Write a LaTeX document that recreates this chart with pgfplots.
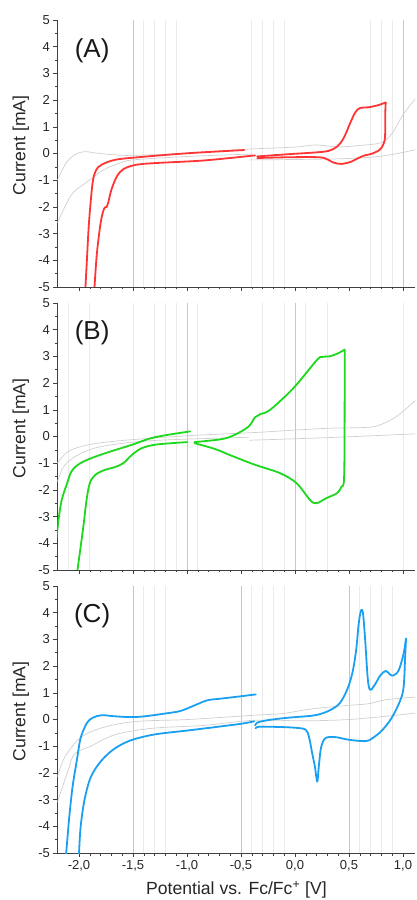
\documentclass[border=0pt]{standalone}
\usepackage{fontspec}
\setmainfont{Liberation Sans}
\usepackage{pgfplots}
\pgfplotsset{compat=1.18}

\definecolor{cvred}{HTML}{FF3535}
\definecolor{cvgreen}{HTML}{1ED81E}
\definecolor{cvblue}{HTML}{1AA0F0}

\pgfplotsset{
  cvpanel/.style={
    scale only axis, width=358pt, height=267pt,
    xmin=-2.2, xmax=1.115, ymin=-5, ymax=5,
    axis x line*=bottom, axis y line*=left,
    axis line style={-, black!75, line width=0.6pt},
    every outer x axis line/.append style={-},
    every outer y axis line/.append style={-},
    xtick={-2,-1.5,-1,-0.5,0,0.5,1}, minor x tick num=4,
    ytick={-5,-4,-3,-2,-1,0,1,2,3,4,5}, minor y tick num=1,
    tick align=outside, major tick length=4pt, minor tick length=2.5pt,
    tick style={black!75, line width=0.5pt},
    tick label style={font=\fontsize{13}{15}\selectfont, text=black!85},
    /pgf/number format/assume math mode=true,
    xticklabel style={/pgf/number format/.cd, fixed, fixed zerofill, precision=1, use comma},
    ylabel={Current [mA]},
    ylabel style={at={(axis description cs:-0.102,0.53)}, anchor=center,
      font=\fontsize{17.6}{20}\selectfont, text=black!85},
  },
  gridd/.style={gray!45, line width=0.8pt, forget plot},
  gridl/.style={gray!16, line width=0.7pt, forget plot},
  blank/.style={gray!38, line width=0.7pt, smooth, tension=0.55},
  cv/.style={line width=1.8pt, smooth, tension=0.55, line cap=round, line join=round},
}

\begin{document}
\begin{tikzpicture}
\useasboundingbox (-57.4pt,-47pt) rectangle (358.6pt,853pt);

% ---------- (A) ----------
\begin{axis}[cvpanel, at={(0,566pt)}, anchor=south west, xticklabels={}]
  \pgfplotsinvokeforeach{-1.5,1.0}{\addplot[gridd] coordinates {(#1,-5) (#1,5)};}
  \pgfplotsinvokeforeach{-1.4,-1.3,-1.2,-1.1,-0.4,-0.3,-0.2,-0.1,0.7,0.8,0.9}{\addplot[gridl] coordinates {(#1,-5) (#1,5)};}
  \addplot[blank] coordinates {(-2.2,-1.0) (-2.12,-0.36) (-2.04,-0.05) (-1.95,0.07) (-1.83,0.01) (-1.67,-0.05) (-1.5,-0.07) (-1.0,0.01) (-0.45,0.16) (0.0,0.24) (0.19,0.32) (0.4,0.25) (0.6,0.3) (0.8,0.41) (0.9,0.76) (1.0,1.45) (1.115,2.05)};
  \addplot[blank] coordinates {(-2.2,-2.6) (-2.07,-1.55) (-1.92,-1.05) (-1.77,-0.61) (-1.62,-0.36) (-1.5,-0.24) (-0.99,-0.11) (-0.4,-0.02)};
  \addplot[blank] coordinates {(-0.42,-0.24) (0.4,-0.2) (0.8,-0.1) (1.115,0.14)};
  \addplot[cv, cvred] coordinates {(-0.47,0.13) (-0.99,0.01) (-1.48,-0.15) (-1.67,-0.24) (-1.79,-0.42) (-1.84,-0.61) (-1.87,-0.99) (-1.89,-1.73) (-1.91,-2.73) (-1.925,-3.85) (-1.94,-5.0) (-1.942,-5.3)};
  \addplot[cv, cvred] coordinates {(-1.858,-5.3) (-1.856,-4.98) (-1.834,-3.73) (-1.80,-2.61) (-1.775,-2.15) (-1.76,-2.02) (-1.745,-2.0) (-1.73,-1.85) (-1.70,-1.36) (-1.65,-0.86) (-1.59,-0.59) (-1.48,-0.43) (-1.30,-0.36) (-0.84,-0.26) (-0.37,-0.07)};
  \addplot[cv, cvred] coordinates {(-0.35,-0.11) (-0.055,-0.025) (0.19,0.04) (0.313,0.1) (0.39,0.26) (0.45,0.57) (0.51,1.13) (0.557,1.53) (0.60,1.70) (0.68,1.73) (0.77,1.81) (0.84,1.91)};
  \addplot[cv, cvred] coordinates {(0.84,1.91) (0.836,1.5) (0.834,0.64) (0.82,0.36) (0.785,0.14) (0.71,-0.01) (0.647,-0.07) (0.586,-0.17) (0.525,-0.3) (0.433,-0.39) (0.356,-0.34) (0.295,-0.21) (0.218,-0.14) (-0.055,-0.14) (-0.35,-0.17)};
  \node[font=\fontsize{26}{30}\selectfont, text=black!90] at (rel axis cs:0.097,0.885) {(A)};
\end{axis}

% ---------- (B) ----------
\begin{axis}[cvpanel, at={(0,283pt)}, anchor=south west, xticklabels={}]
  \pgfplotsinvokeforeach{-1.0,0.0}{\addplot[gridd] coordinates {(#1,-5) (#1,5)};}
  \pgfplotsinvokeforeach{-2.1,-1.9,-1.5,-1.3,-1.2,-1.1,-0.9,-0.3,-0.1,0.1,0.3,1.0}{\addplot[gridl] coordinates {(#1,-5) (#1,5)};}
  \addplot[blank] coordinates {(-2.2,-1.0) (-2.1,-0.56) (-1.91,-0.31) (-1.6,-0.15) (-0.99,0.03) (-0.37,0.15) (0.0,0.24) (0.32,0.31) (0.66,0.34) (0.79,0.44) (0.94,0.75) (1.115,1.35)};
  \addplot[blank] coordinates {(-2.2,-1.69) (-2.13,-1.06) (-1.98,-0.63) (-1.76,-0.35) (-1.30,-0.15) (-0.43,-0.03)};
  \addplot[blank] coordinates {(-0.42,-0.14) (0.32,-0.04) (1.115,0.1)};
  \addplot[cv, cvgreen] coordinates {(-0.972,0.19) (-1.30,-0.03) (-1.51,-0.31) (-1.76,-0.63) (-1.91,-0.85) (-2.01,-1.06) (-2.07,-1.31) (-2.11,-1.75) (-2.16,-2.38) (-2.19,-3.13) (-2.21,-3.88)};
  \addplot[cv, cvgreen] coordinates {(-1.0,-0.21) (-1.14,-0.25) (-1.30,-0.31) (-1.42,-0.44) (-1.51,-0.69) (-1.59,-1.0) (-1.67,-1.15) (-1.76,-1.25) (-1.85,-1.44) (-1.90,-1.75) (-1.93,-2.38) (-1.96,-3.38) (-2.01,-4.88) (-2.025,-5.3)};
  \addplot[cv, cvgreen] coordinates {(-0.93,-0.21) (-0.68,-0.1) (-0.56,0.06) (-0.43,0.37) (-0.37,0.72) (-0.32,0.84) (-0.23,1.0) (-0.015,1.81) (0.2,2.85) (0.25,2.98) (0.32,3.0) (0.39,3.1) (0.46,3.25)};
  \addplot[cv, cvgreen] coordinates {(0.46,3.25) (0.46,1.5) (0.455,-1.5) (0.43,-1.88) (0.39,-2.12) (0.29,-2.31) (0.2,-2.5) (0.14,-2.38) (0.015,-1.75) (-0.14,-1.37) (-0.37,-1.06) (-0.6,-0.7) (-0.74,-0.47) (-0.93,-0.25)};
  \node[font=\fontsize{26}{30}\selectfont, text=black!90] at (rel axis cs:0.097,0.888) {(B)};
\end{axis}

% ---------- (C) ----------
\begin{axis}[cvpanel, at={(0,0)}, anchor=south west,
    xlabel={Potential vs. Fc/Fc\textsuperscript{+} [V]},
    xlabel style={at={(axis description cs:0.5,-0.139)}, anchor=center,
      font=\fontsize{17.6}{20}\selectfont, text=black!85}]
  \pgfplotsinvokeforeach{-1.5,-0.5,0.5}{\addplot[gridd] coordinates {(#1,-5) (#1,5)};}
  \pgfplotsinvokeforeach{-1.4,-1.3,-1.2,-0.4,-0.3,-0.2,-0.1,0.6,0.7,0.8,0.9}{\addplot[gridl] coordinates {(#1,-5) (#1,5)};}
  \addplot[blank] coordinates {(-2.2,-2.15) (-2.13,-1.4) (-1.98,-0.66) (-1.76,-0.28) (-1.46,-0.07) (-0.99,0.0) (-0.38,0.16) (-0.12,0.22) (0.16,0.4) (0.5,0.53) (0.68,0.59) (0.84,0.74) (1.115,0.84)};
  \addplot[blank] coordinates {(-2.2,-3.1) (-2.10,-1.9) (-2.04,-1.28) (-1.89,-1.0) (-1.76,-0.72) (-1.61,-0.51) (-1.30,-0.32) (-0.84,-0.22) (-0.38,-0.03) (0.1,-0.05) (0.5,0.0) (0.84,0.12) (1.115,0.24)};
  \addplot[cv, cvblue] coordinates {(-0.363,0.94) (-0.50,0.87) (-0.69,0.78) (-0.81,0.72) (-0.93,0.53) (-1.06,0.32) (-1.21,0.22) (-1.39,0.12) (-1.52,0.09) (-1.67,0.12) (-1.79,0.16) (-1.87,0.07) (-1.92,-0.09) (-1.96,-0.41) (-1.99,-0.78) (-2.02,-1.53) (-2.06,-2.53) (-2.09,-3.65) (-2.11,-4.59) (-2.125,-5.3)};
  \addplot[cv, cvblue] coordinates {(-2.005,-5.3) (-2.0,-5.0) (-1.985,-4.03) (-1.95,-3.03) (-1.89,-2.15) (-1.79,-1.53) (-1.67,-1.09) (-1.52,-0.78) (-1.30,-0.56) (-0.99,-0.41) (-0.69,-0.26) (-0.50,-0.16) (-0.378,-0.07)};
  \addplot[cv, cvblue] coordinates {(-0.37,-0.22) (-0.35,-0.12) (-0.3,-0.06) (-0.21,0.0) (-0.055,0.07) (0.1,0.12) (0.2,0.17) (0.31,0.32) (0.41,0.59) (0.48,1.09) (0.53,1.72) (0.566,2.59) (0.59,3.59) (0.612,4.09) (0.63,3.96) (0.65,2.97) (0.67,1.72) (0.685,1.2) (0.705,1.12) (0.745,1.34) (0.79,1.65) (0.84,1.82) (0.88,1.69) (0.91,1.65) (0.96,1.84) (1.006,2.47) (1.028,3.03)};
  \addplot[cv, cvblue] coordinates {(1.028,3.03) (1.02,2.34) (1.006,1.22) (0.975,0.72) (0.90,0.09) (0.806,-0.41) (0.71,-0.72) (0.65,-0.81) (0.50,-0.76) (0.375,-0.66) (0.29,-0.68) (0.258,-0.84) (0.237,-1.15) (0.22,-1.78) (0.206,-2.33) (0.185,-1.78) (0.16,-1.28) (0.13,-0.66) (0.098,-0.38) (0.006,-0.31) (-0.15,-0.28) (-0.33,-0.27) (-0.365,-0.33)};
  \node[font=\fontsize{26}{30}\selectfont, text=black!90] at (rel axis cs:0.097,0.89) {(C)};
\end{axis}
\end{tikzpicture}
\end{document}
